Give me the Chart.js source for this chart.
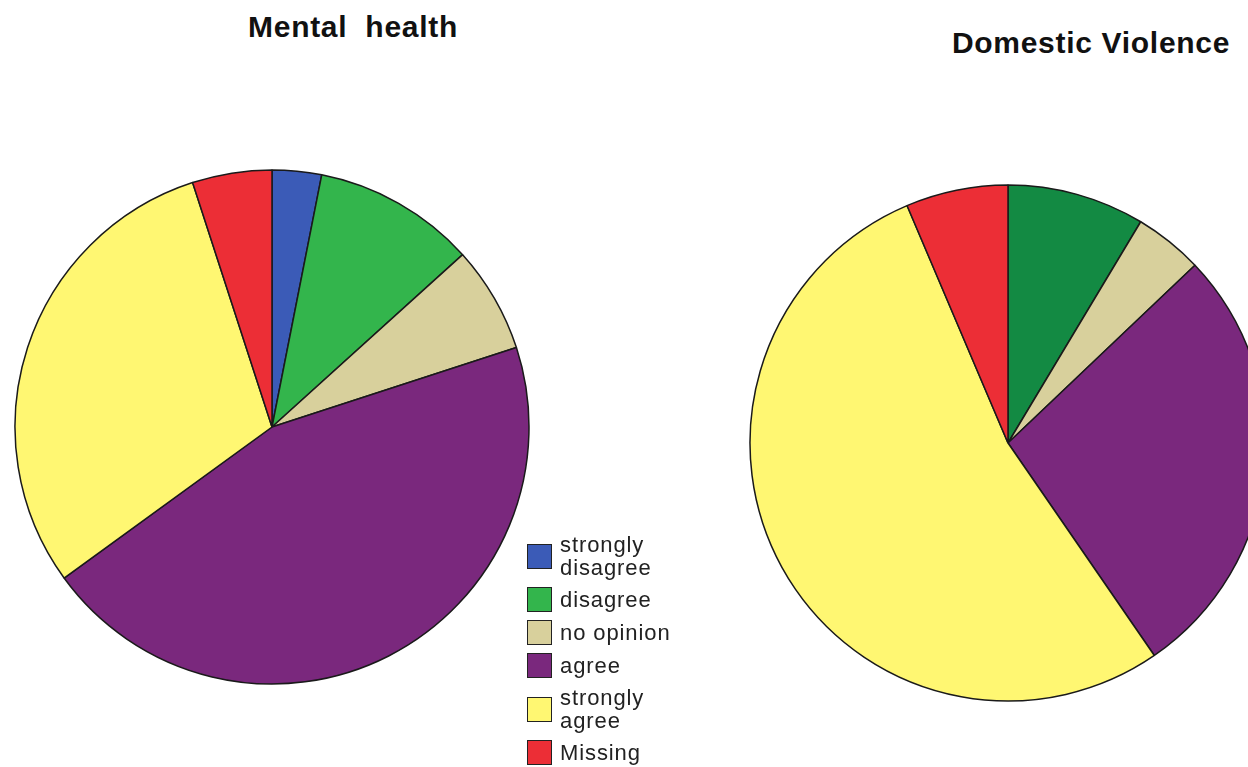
<!DOCTYPE html>
<html>
<head>
<meta charset="utf-8">
<script src="https://cdn.jsdelivr.net/npm/chart.js@4/dist/chart.umd.min.js"></script>
<style>
html, body { margin: 0; padding: 0; background: #fff; width: 1248px; height: 767px; overflow: hidden; }
body { position: relative; font-family: "Liberation Sans", Arial, sans-serif; }
.title { position: absolute; width: 400px; text-align: center; font-weight: bold; font-size: 30px; line-height: 30px; letter-spacing: 0.7px; color: #111; white-space: pre; }
canvas { position: absolute; }
#legend { position: absolute; left: 527px; top: 533px; display: flex; flex-direction: column; gap: 8px; }
.item { display: flex; align-items: center; }
.box { width: 23px; height: 23px; border: 1.5px solid #222; margin-right: 8px; flex: none; }
.txt { font-size: 22px; line-height: 23px; letter-spacing: 0.9px; color: #222; }
</style>
</head>
<body>
<div class="title" style="left:153px; top:12px;">Mental  health</div>
<div class="title" style="left:891px; top:28px;">Domestic Violence</div>
<canvas id="pieMental" width="520" height="520" style="left:12px; top:167px;"></canvas>
<canvas id="pieViolence" width="520" height="520" style="left:748px; top:183px;"></canvas>
<div id="legend"></div>
<script>
// answer categories, in drawing order (clockwise from 12 o'clock)
const categories = ["strongly disagree", "disagree", "no opinion", "agree", "strongly agree", "Missing"];
const legendLines = [["strongly", "disagree"], ["disagree"], ["no opinion"], ["agree"], ["strongly", "agree"], ["Missing"]];

// percent of respondents
const mentalHealth = [3.1, 10.2, 6.7, 45.0, 30.0, 5.0];
const domesticViolence = [0, 8.6, 4.3, 27.5, 53.2, 6.4];

const mentalColors = ["#3b5bb7", "#33b54c", "#d8d09c", "#7a287d", "#fff772", "#ec2e36"];
const violenceColors = ["#3b5bb7", "#138a43", "#d8d09c", "#7a287d", "#fff772", "#ec2e36"];

function makePie(id, values, colors, radius) {
  return new Chart(document.getElementById(id), {
    type: "pie",
    data: {
      labels: categories,
      datasets: [{
        data: values,
        backgroundColor: colors,
        borderColor: "#1a1a1a",
        borderWidth: 1.5
      }]
    },
    options: {
      responsive: false,
      animation: false,
      events: [],
      radius: radius,
      layout: { padding: 0 },
      plugins: {
        legend: { display: false },
        tooltip: { enabled: false }
      }
    }
  });
}

makePie("pieMental", mentalHealth, mentalColors, 257);
makePie("pieViolence", domesticViolence, violenceColors, 258);

// legend beside the first pie
const legend = document.getElementById("legend");
categories.forEach((c, i) => {
  const item = document.createElement("div");
  item.className = "item";
  const box = document.createElement("div");
  box.className = "box";
  box.style.background = mentalColors[i];
  const txt = document.createElement("div");
  txt.className = "txt";
  txt.innerHTML = legendLines[i].join("<br>");
  item.appendChild(box);
  item.appendChild(txt);
  legend.appendChild(item);
});
</script>
</body>
</html>
